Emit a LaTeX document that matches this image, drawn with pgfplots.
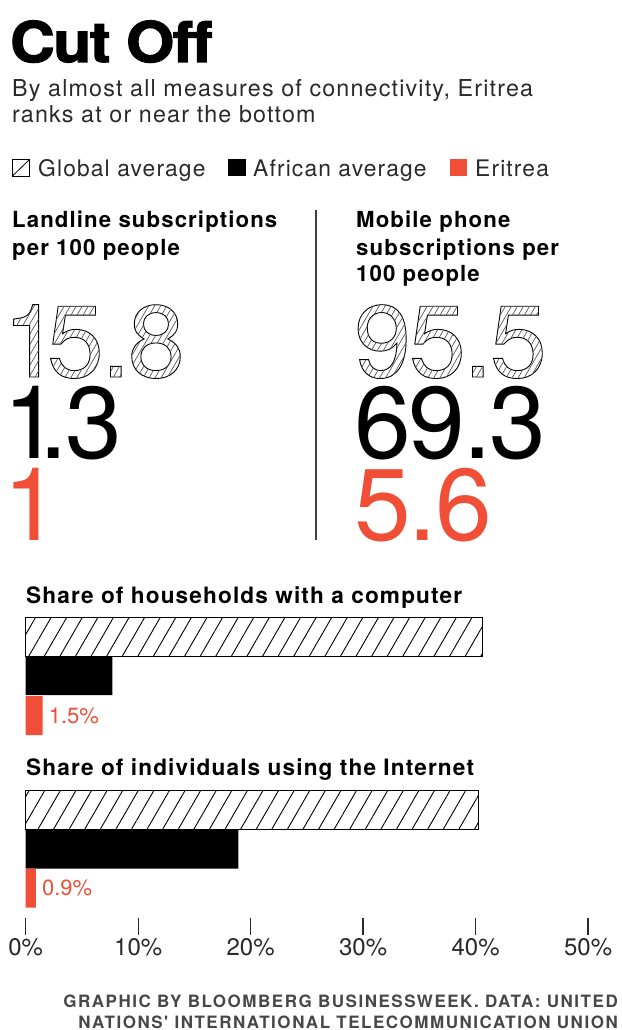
\documentclass[border=0pt]{standalone}
\usepackage{pgfplots}
\pgfplotsset{compat=1.18}
\usetikzlibrary{patterns.meta}
\usepackage{fontspec}
\setmainfont{TeX Gyre Heros}
\newfontfamily\titlefont{TeX Gyre Heros}[BoldFeatures={FakeBold=2.2}, LetterSpace=-2]
\newfontfamily\subfont{TeX Gyre Heros}[LetterSpace=5]
\newfontfamily\hdfont{TeX Gyre Heros}[LetterSpace=5]
\newfontfamily\numfont{TeX Gyre Heros}[LetterSpace=-2]
\newfontfamily\footfont{TeX Gyre Heros}[LetterSpace=9]
\definecolor{eri}{HTML}{F04E37}
\definecolor{txt}{HTML}{2A2A2A}

\newsavebox\numbox
\newcount\hc
\def\hatchlines{}
\hc=-130
\loop
\edef\hatchlines{\hatchlines\space\the\hc\space -10 m \the\numexpr\hc+58\relax\space 90 l}
\advance\hc by 6
\ifnum\hc<240 \repeat

% outlined digits (stroke + clip) filled with thin hatching
\newcommand\hatchnum[1]{%
  \sbox\numbox{#1}%
  \special{x:gsave}\special{pdf:literal direct 5 Tr 0.9 w 0.2 G}\usebox\numbox\kern-\wd\numbox
  \special{pdf:content 0.35 G 0.7 w\hatchlines\space S}\special{x:grestore}\kern\wd\numbox}

\newcommand\bignum{\numfont\fontsize{102}{102}\selectfont}
\newcommand\hd{\hdfont\bfseries\fontsize{22.2}{22.2}\selectfont}
\newcommand\bt{\hdfont\bfseries\fontsize{22.6}{22.6}\selectfont}
\newcommand\sub{\subfont\fontsize{23.3}{23.3}\selectfont\color{txt}}
\newcommand\leg{\subfont\fontsize{22.8}{22.8}\selectfont\color{txt}}

\begin{document}
\begin{tikzpicture}
\path[use as bounding box] (0,0) rectangle (621pt,-1030pt);
% title and subtitle
\node[anchor=base west, inner sep=0] at (10pt,-62pt) {\scalebox{1.1}[1]{\titlefont\bfseries\fontsize{56}{56}\selectfont Cut Off}};
\node[anchor=base west, inner sep=0] at (12pt,-97pt) {\sub By almost all measures of connectivity, Eritrea};
\node[anchor=base west, inner sep=0] at (12pt,-123pt) {\sub ranks at or near the bottom};
% legend
\draw[black, line width=1pt] (12.5pt,-159.5pt) rectangle (29.5pt,-176pt);
\draw[black, line width=0.8pt] (12.5pt,-176pt) -- (29.5pt,-159.5pt);
\node[anchor=base west, inner sep=0] at (38pt,-176pt) {\leg Global average};
\fill[black] (228pt,-159pt) rectangle (246pt,-176pt);
\node[anchor=base west, inner sep=0] at (253pt,-176pt) {\leg African average};
\fill[eri] (450pt,-159pt) rectangle (467pt,-176pt);
\node[anchor=base west, inner sep=0] at (475pt,-176pt) {\leg Eritrea};
% headers
\node[anchor=base west, inner sep=0] at (12pt,-227pt) {\hd Landline subscriptions};
\node[anchor=base west, inner sep=0] at (12pt,-255pt) {\hd per 100 people};
\node[anchor=base west, inner sep=0] at (356pt,-227pt) {\hd Mobile phone};
\node[anchor=base west, inner sep=0] at (356pt,-255pt) {\hd subscriptions per};
\node[anchor=base west, inner sep=0] at (356pt,-281pt) {\hd 100 people};
\draw[black!75, line width=1.5pt] (316pt,-210pt) -- (316pt,-540pt);
% big numbers
\node[anchor=base west, inner sep=0] at (3pt,-377pt) {\bignum\hatchnum{1\kern-13pt 5.8}};
\node[anchor=base west, inner sep=0] at (3pt,-458pt) {\bignum 1\kern-21pt .3};
\node[anchor=base west, inner sep=0] at (3pt,-540pt) {\bignum\color{eri}1};
\node[anchor=base west, inner sep=0] at (354pt,-377pt) {\bignum\hatchnum{95.5}};
\node[anchor=base west, inner sep=0] at (354pt,-458pt) {\bignum 69.3};
\node[anchor=base west, inner sep=0] at (354pt,-540pt) {\bignum\color{eri}5.6};
% bar chart titles
\node[anchor=base west, inner sep=0] at (26pt,-603pt) {\bt Share of households with a computer};
\node[anchor=base west, inner sep=0] at (26pt,-775pt) {\bt Share of individuals using the Internet};
% footer
\node[anchor=base east, inner sep=0] at (618pt,-1007pt) {\footfont\bfseries\fontsize{17}{17}\selectfont\color{black!72}GRAPHIC BY BLOOMBERG BUSINESSWEEK. DATA: UNITED};
\node[anchor=base east, inner sep=0] at (618pt,-1028pt) {\footfont\bfseries\fontsize{17}{17}\selectfont\color{black!72}NATIONS' INTERNATIONAL TELECOMMUNICATION UNION};

\begin{axis}[
  at={(25.7pt,-918pt)}, anchor=south west,
  scale only axis, width=562.4pt, height=318pt,
  xmin=0, xmax=50, ymin=600, ymax=918, y dir=reverse,
  axis line style={draw=none},
  ytick=\empty,
  xtick={0,10,20,30,40,50},
  xticklabels={0\%,10\%,20\%,30\%,40\%,50\%},
  xtick pos=bottom,
  tick align=outside,
  major tick length=17pt,
  tick style={draw=txt, line width=1.3pt},
  xticklabel style={font=\fontsize{24}{24}\selectfont, text=txt},
  /pgf/number format/assume math mode=true,
  clip=false,
]
\addplot[xbar, bar shift=0pt, bar width=39, draw=black, line width=1pt,
  pattern={Lines[angle=60,distance=13.5pt,line width=0.9pt]}]
  coordinates {(40.6,636.5) (40.3,810)};
\addplot[xbar, bar shift=0pt, bar width=39, fill=black, draw=none]
  coordinates {(7.7,675.5) (18.9,849)};
\addplot[xbar, bar shift=0pt, bar width=39, fill=eri, draw=none, point meta=x,
  nodes near coords={\pgfmathprintnumber[fixed,precision=1,fixed zerofill]{\pgfplotspointmeta}\%},
  nodes near coords style={anchor=west, inner sep=0pt, xshift=6pt, text=eri, font=\fontsize{22}{22}\selectfont}]
  coordinates {(1.5,715.5) (0.9,888)};
\end{axis}
\end{tikzpicture}
\end{document}
